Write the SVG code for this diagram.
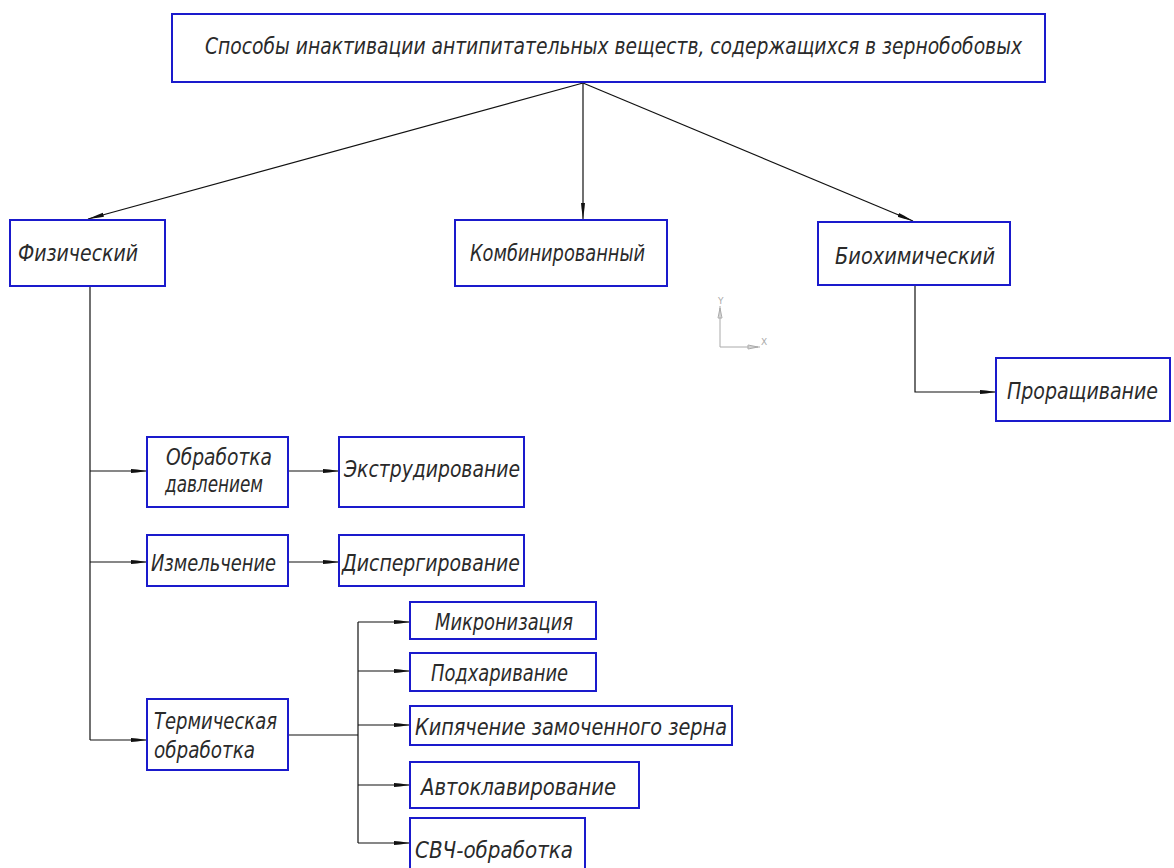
<svg xmlns="http://www.w3.org/2000/svg" width="1174" height="868" viewBox="0 0 1174 868">
<style>
.box{fill:#fff;stroke:#1a1acc;stroke-width:2}
.t{font-family:"DejaVu Sans Condensed","Liberation Sans Narrow","DejaVu Sans",sans-serif;font-style:italic;font-weight:300;font-size:23px;fill:#2a2a2a}
.ln{fill:none;stroke:#111;stroke-width:1.2}
.ax{fill:none;stroke:#aaa;stroke-width:1}
.axt{font-family:"DejaVu Sans",sans-serif;font-size:9px;fill:#aaa}
</style>
<defs>
<marker id="ah" viewBox="0 0 16 6" refX="16" refY="3" markerWidth="16" markerHeight="6" markerUnits="userSpaceOnUse" orient="auto">
<path d="M0,1 L6,1.6 L16,3 L6,4.4 L0,5 Z" fill="#111"/>
</marker>
</defs>
<rect width="1174" height="868" fill="#fff"/>
<g id="connectors">
<line class="ln" x1="583" y1="83" x2="88" y2="219" marker-end="url(#ah)"/>
<line class="ln" x1="583" y1="83" x2="583" y2="219" marker-end="url(#ah)"/>
<line class="ln" x1="583" y1="83" x2="913" y2="221" marker-end="url(#ah)"/>
<polyline class="ln" points="90,286 90,740"/>
<line class="ln" x1="90" y1="471" x2="147" y2="471" marker-end="url(#ah)"/>
<line class="ln" x1="90" y1="562" x2="147" y2="562" marker-end="url(#ah)"/>
<line class="ln" x1="90" y1="740" x2="147" y2="740" marker-end="url(#ah)"/>
<line class="ln" x1="288" y1="471" x2="339" y2="471" marker-end="url(#ah)"/>
<line class="ln" x1="288" y1="562" x2="339" y2="562" marker-end="url(#ah)"/>
<line class="ln" x1="288" y1="735" x2="358" y2="735"/>
<line class="ln" x1="358" y1="622" x2="358" y2="843"/>
<line class="ln" x1="358" y1="622" x2="410" y2="622" marker-end="url(#ah)"/>
<line class="ln" x1="358" y1="671" x2="410" y2="671" marker-end="url(#ah)"/>
<line class="ln" x1="358" y1="725" x2="410" y2="725" marker-end="url(#ah)"/>
<line class="ln" x1="358" y1="785" x2="410" y2="785" marker-end="url(#ah)"/>
<line class="ln" x1="358" y1="843" x2="410" y2="843" marker-end="url(#ah)"/>
<polyline class="ln" points="915,285 915,392 996,392" marker-end="url(#ah)"/>
</g>
<g id="axes">
<line class="ax" x1="720" y1="306" x2="720" y2="347"/>
<line class="ax" x1="720" y1="347" x2="760" y2="347"/>
<path d="M718,318 L720,308 L722,318 Z" fill="none" stroke="#aaa"/>
<path d="M748,345 L758,347 L748,349 Z" fill="none" stroke="#aaa"/>
<text class="axt" x="718" y="304">Y</text>
<text class="axt" x="761" y="345">X</text>
</g>
<g id="n-root"><rect class="box" x="172" y="14" width="873" height="68"/><text class="t" x="205" y="54" textLength="817" lengthAdjust="spacingAndGlyphs">Способы инактивации антипитательных веществ, содержащихся в зернобобовых</text></g>
<g id="n-phys"><rect class="box" x="10" y="220" width="155" height="66"/><text class="t" x="18" y="261" textLength="120" lengthAdjust="spacingAndGlyphs">Физический</text></g>
<g id="n-comb"><rect class="box" x="455" y="220" width="212" height="66"/><text class="t" x="470" y="261" textLength="175" lengthAdjust="spacingAndGlyphs">Комбинированный</text></g>
<g id="n-bio"><rect class="box" x="818" y="222" width="192" height="63"/><text class="t" x="835" y="264" textLength="160" lengthAdjust="spacingAndGlyphs">Биохимический</text></g>
<g id="n-sprout"><rect class="box" x="996" y="358" width="174" height="63"/><text class="t" x="1007" y="399" textLength="151" lengthAdjust="spacingAndGlyphs">Проращивание</text></g>
<g id="n-press"><rect class="box" x="147" y="437" width="141" height="70"/><text class="t" x="166" y="465" textLength="106" lengthAdjust="spacingAndGlyphs">Обработка</text><text class="t" x="165" y="492" textLength="98" lengthAdjust="spacingAndGlyphs">давлением</text></g>
<g id="n-extr"><rect class="box" x="339" y="437" width="185" height="70"/><text class="t" x="344" y="477" textLength="176" lengthAdjust="spacingAndGlyphs">Экструдирование</text></g>
<g id="n-grind"><rect class="box" x="147" y="535" width="141" height="51"/><text class="t" x="151" y="571" textLength="125" lengthAdjust="spacingAndGlyphs">Измельчение</text></g>
<g id="n-disp"><rect class="box" x="339" y="535" width="185" height="51"/><text class="t" x="342" y="571" textLength="178" lengthAdjust="spacingAndGlyphs">Диспергирование</text></g>
<g id="n-therm"><rect class="box" x="147" y="699" width="141" height="71"/><text class="t" x="154" y="729" textLength="123" lengthAdjust="spacingAndGlyphs">Термическая</text><text class="t" x="154" y="758" textLength="101" lengthAdjust="spacingAndGlyphs">обработка</text></g>
<g id="n-micro"><rect class="box" x="410" y="602" width="186" height="37"/><text class="t" x="435" y="630" textLength="138" lengthAdjust="spacingAndGlyphs">Микронизация</text></g>
<g id="n-roast"><rect class="box" x="410" y="653" width="186" height="38"/><text class="t" x="431" y="681" textLength="137" lengthAdjust="spacingAndGlyphs">Подхаривание</text></g>
<g id="n-boil"><rect class="box" x="410" y="706" width="322" height="39"/><text class="t" x="415" y="735" textLength="312" lengthAdjust="spacingAndGlyphs">Кипячение замоченного зерна</text></g>
<g id="n-auto"><rect class="box" x="410" y="762" width="229" height="46"/><text class="t" x="421" y="795" textLength="195" lengthAdjust="spacingAndGlyphs">Автоклавирование</text></g>
<g id="n-shf"><rect class="box" x="410" y="818" width="175" height="52"/><text class="t" x="415" y="858" textLength="158" lengthAdjust="spacingAndGlyphs">СВЧ-обработка</text></g>
</svg>
